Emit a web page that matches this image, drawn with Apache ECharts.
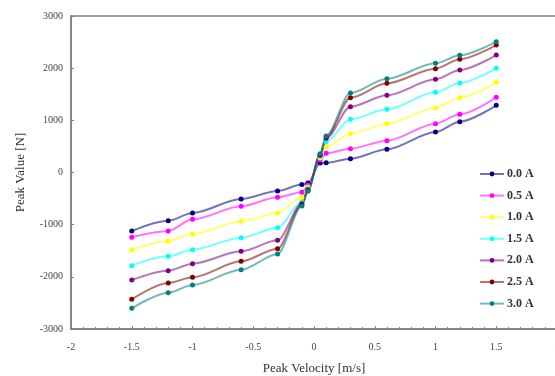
<!DOCTYPE html>
<html><head><meta charset="utf-8">
<script src="https://cdn.jsdelivr.net/npm/echarts@6/dist/echarts.min.js"></script>
<style>html,body{margin:0;padding:0;background:#fff}#c{width:555px;height:376px}</style>
</head><body><div id="c"></div>
<script>
const velocity = [-1.5, -1.2, -1.0, -0.6, -0.3, -0.1, -0.05, 0.05, 0.1, 0.3, 0.6, 1.0, 1.2, 1.5];
const names = ['0.0 A', '0.5 A', '1.0 A', '1.5 A', '2.0 A', '2.5 A', '3.0 A'];
const s00 = [-1121, -923, -776, -508, -355, -230, -200, 180, 185, 265, 445, 776, 974, 1288];
const s05 = [-1242, -1121, -898, -648, -476, -380, -240, 240, 370, 457, 610, 936, 1116, 1441];
const s10 = [-1486, -1313, -1179, -936, -776, -480, -280, 280, 490, 744, 936, 1236, 1434, 1729];
const s15 = [-1786, -1607, -1479, -1249, -1057, -570, -310, 310, 590, 1020, 1211, 1537, 1716, 1997];
const s20 = [-2061, -1882, -1748, -1511, -1300, -600, -330, 330, 655, 1262, 1480, 1786, 1965, 2252];
const s25 = [-2431, -2118, -2009, -1703, -1460, -620, -345, 345, 680, 1434, 1709, 1990, 2170, 2444];
const s30 = [-2604, -2304, -2156, -1862, -1562, -640, -360, 360, 700, 1524, 1798, 2093, 2246, 2507];
const xTicks = ['-2', '-1.5', '-1', '-0.5', '0', '0.5', '1', '1.5', '2'];
const yTicks = ['-3000', '-2000', '-1000', '0', '1000', '2000', '3000'];
const colors = ['#000080', '#ff00ff', '#ffff00', '#00ffff', '#800080', '#800000', '#008080'];
const allSeries = [s00, s05, s10, s15, s20, s25, s30];

const font = '"Liberation Serif", "DejaVu Serif", serif';
const chart = echarts.init(document.getElementById('c'));
chart.setOption({
  animation: false,
  grid: { left: 71, top: 16, bottom: 47, right: -2, outerBoundsMode: 'none', containLabel: false,
    show: true, borderColor: '#808080', borderWidth: 1.5 },
  legend: {
    orient: 'vertical', left: 474, top: 163, itemWidth: 24, itemHeight: 6, itemGap: 9.6,
    itemStyle: { borderWidth: 0 },
    textStyle: { fontFamily: font, fontSize: 12, fontWeight: 'bold', color: '#333', padding: [0, 0, 0, -2] },
    data: names
  },
  xAxis: {
    type: 'value', min: -2, max: 2, interval: 0.5,
    name: 'Peak Velocity [m/s]', nameLocation: 'middle', nameGap: 33,
    nameTextStyle: { fontFamily: font, fontSize: 13, color: '#333' },
    axisLine: { onZero: false, lineStyle: { color: '#808080', width: 1.5 } },
    axisTick: { inside: true, length: 3, lineStyle: { color: '#808080' } },
    minorTick: { show: true, splitNumber: 5, length: 2, lineStyle: { color: '#808080' } },
    splitLine: { show: false },
    axisLabel: { fontFamily: font, fontSize: 10, color: '#444', margin: 13,
      formatter: v => xTicks[Math.round((v + 2) / 0.5)] }
  },
  yAxis: {
    type: 'value', min: -3000, max: 3000, interval: 1000,
    name: 'Peak Value [N]', nameLocation: 'middle', nameGap: 44,
    nameTextStyle: { fontFamily: font, fontSize: 13, color: '#333' },
    axisLine: { onZero: false, lineStyle: { color: '#808080', width: 1.5 } },
    axisTick: { inside: true, length: 3, lineStyle: { color: '#808080' } },
    splitLine: { show: false },
    axisLabel: { fontFamily: font, fontSize: 10, color: '#444', margin: 8,
      formatter: v => yTicks[Math.round((v + 3000) / 1000)] }
  },
  series: names.map((n, i) => ({
    name: n, type: 'line', smooth: 0.3, smoothMonotone: 'x',
    symbol: 'circle', symbolSize: 5,
    itemStyle: { color: colors[i] },
    lineStyle: { color: colors[i], width: 2, opacity: 0.55 },
    data: velocity.map((x, j) => [x, allSeries[i][j]])
  }))
});
</script></body></html>
